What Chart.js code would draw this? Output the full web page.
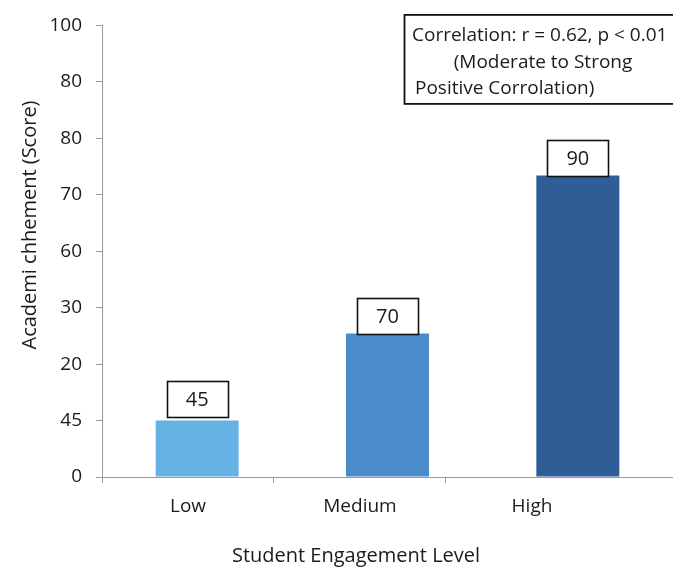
<!DOCTYPE html>
<html>
<head>
<meta charset="utf-8">
<script src="https://cdn.jsdelivr.net/npm/chart.js@4"></script>
<style>
  html, body { margin: 0; background: #ffffff; }
  canvas { display: block; }
</style>
</head>
<body>
<canvas id="c" width="673" height="579"></canvas>
<script>
// Engagement groups and their bars
const categories = ['Low', 'Medium', 'High'];
// bar heights, measured in steps of the vertical axis
const barHeights = [1.0, 2.54, 5.34];
// numbers printed in the boxes above the bars
const valueLabels = ['45', '70', '90'];
// labels printed at each vertical-axis step, bottom to top
const yTickLabels = ['0', '45', '20', '30', '60', '70', '80', '80', '100'];
const barColors = ['#67b2e4', '#4a8cc9', '#2e5e95'];
const noteLines = ['Correlation: r = 0.62, p < 0.01', '(Moderate to Strong', 'Positive Corrolation)'];
const xTitle = 'Student Engagement Level';
const yTitle = 'Academi chhement (Score)';

const FONT = '"Open Sans", "DejaVu Sans", sans-serif';
const AXIS_GREY = '#9a9a9a';
const TEXT = '#1b1b1b';

// boxed value labels over each bar, the correlation note and both axis titles
const annotations = {
  id: 'annotations',
  afterDatasetsDraw(chart) {
    const ctx = chart.ctx;
    const bars = chart.getDatasetMeta(0).data;
    ctx.save();
    ctx.font = '20px ' + FONT;
    ctx.textAlign = 'center';
    ctx.textBaseline = 'middle';
    bars.forEach((bar, i) => {
      const w = 61, h = 36;
      const gap = i === 0 ? 4 : 0;
      const x = Math.round(bar.x - w / 2) + 0.5;
      const y = Math.round(bar.y - gap - h) + 0.5;
      ctx.fillStyle = '#ffffff';
      ctx.fillRect(x, y, w, h);
      ctx.lineWidth = 1.6;
      ctx.strokeStyle = '#111111';
      ctx.strokeRect(x, y, w, h);
      ctx.fillStyle = TEXT;
      ctx.fillText(valueLabels[i], bar.x, y + h / 2 + 1);
    });
    ctx.restore();
  },
  afterDraw(chart) {
    const ctx = chart.ctx;
    const area = chart.chartArea;
    ctx.save();

    // correlation note in the top-right corner
    const bx = 404.5, by = area.top - 10.5;
    ctx.fillStyle = '#ffffff';
    ctx.fillRect(bx, by, 280, 89);
    ctx.lineWidth = 1.8;
    ctx.strokeStyle = '#111111';
    ctx.strokeRect(bx, by, 280, 89);
    ctx.fillStyle = TEXT;
    ctx.font = '19px ' + FONT;
    ctx.textBaseline = 'middle';
    ctx.textAlign = 'left';
    ctx.fillText(noteLines[0], 412, by + 21);
    ctx.textAlign = 'center';
    ctx.fillText(noteLines[1], 543, by + 48);
    ctx.textAlign = 'left';
    ctx.fillText(noteLines[2], 415, by + 74);

    // axis titles
    ctx.font = '20px ' + FONT;
    ctx.textAlign = 'center';
    ctx.fillText(xTitle, 356, 556);
    ctx.translate(30, 225);
    ctx.rotate(-Math.PI / 2);
    ctx.fillText(yTitle, 0, 0);
    ctx.restore();
  }
};

new Chart(document.getElementById('c'), {
  type: 'bar',
  data: {
    labels: categories,
    datasets: [{
      data: barHeights,
      backgroundColor: barColors,
      borderWidth: 0,
      categoryPercentage: 1,
      barPercentage: 0.436,
      xAxisID: 'x',
      yAxisID: 'y'
    }]
  },
  options: {
    responsive: false,
    animation: false,
    devicePixelRatio: 1,
    layout: { padding: { top: 24, right: 0, left: 0, bottom: 0 } },
    plugins: {
      legend: { display: false },
      tooltip: { enabled: false }
    },
    scales: {
      // carries the bars
      x: {
        type: 'category',
        display: false,
        offset: true
      },
      // category names and separator ticks along the bottom
      xl: {
        type: 'linear',
        position: 'bottom',
        offset: false,
        min: 0,
        max: 3.32,
        afterBuildTicks(axis) {
          const t = [];
          categories.forEach((c, i) => { t.push({ value: i }, { value: i + 0.5 }); });
          axis.ticks = t;
        },
        afterFit(axis) { axis.height = 102; },
        border: { display: true, color: AXIS_GREY, width: 1 },
        grid: {
          offset: false,
          drawOnChartArea: false,
          drawTicks: true,
          tickLength: 6,
          color: (c) => (c.tick && Number.isInteger(c.tick.value)) ? AXIS_GREY : 'rgba(0,0,0,0)'
        },
        ticks: {
          autoSkip: false,
          maxRotation: 0,
          padding: 12,
          color: TEXT,
          font: { family: FONT, size: 19 },
          callback: (v) => Number.isInteger(v) ? '' : categories[Math.floor(v)]
        }
      },
      y: {
        type: 'linear',
        min: 0,
        max: yTickLabels.length - 1,
        afterFit(axis) { axis.width = 102; },
        border: { display: true, color: AXIS_GREY, width: 1 },
        grid: {
          drawOnChartArea: false,
          drawTicks: true,
          tickLength: 6,
          color: AXIS_GREY
        },
        ticks: {
          stepSize: 1,
          padding: 14,
          color: TEXT,
          font: { family: FONT, size: 19 },
          callback: (v) => yTickLabels[v]
        }
      }
    }
  },
  plugins: [annotations]
});
</script>
</body>
</html>
